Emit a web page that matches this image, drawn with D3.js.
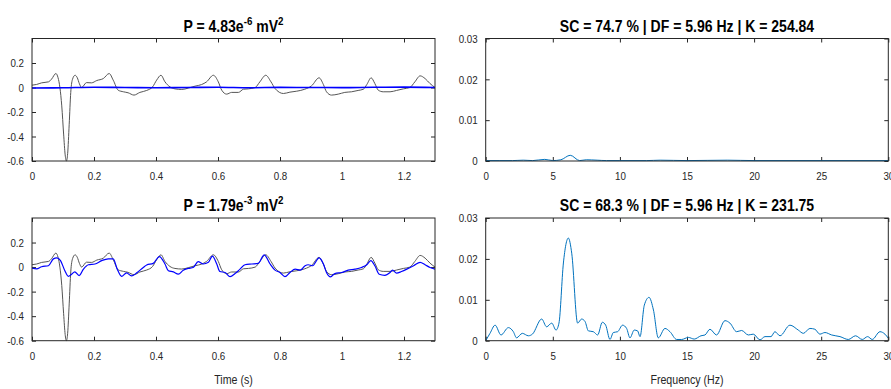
<!DOCTYPE html>
<html>
<head>
<meta charset="utf-8">
<script src="https://cdn.jsdelivr.net/npm/d3@7"></script>
<style>
  body { margin: 0; background: #fff; }
  svg { display: block; font-family: "Liberation Sans", Arial, sans-serif; }
  .tick text { fill: #262626; font-size: 11.5px; }
  .tick line { stroke: #262626; }
</style>
</head>
<body>
<svg id="chart" width="891" height="389"></svg>
<script>
// Time signal (same reference trace in both rows), seconds / mV
const grayTime = [0, 0.015, 0.031, 0.053, 0.063, 0.077, 0.084, 0.09, 0.096, 0.102, 0.107, 0.111, 0.115, 0.12, 0.125, 0.131, 0.139, 0.146, 0.153, 0.16, 0.176, 0.192, 0.209, 0.23, 0.249, 0.262, 0.278, 0.295, 0.31, 0.329, 0.348, 0.37, 0.389, 0.402, 0.416, 0.429, 0.445, 0.461, 0.483, 0.504, 0.526, 0.547, 0.563, 0.585, 0.601, 0.612, 0.628, 0.644, 0.666, 0.682, 0.698, 0.72, 0.735, 0.754, 0.771, 0.784, 0.811, 0.832, 0.854, 0.88, 0.902, 0.926, 0.94, 0.95, 0.966, 0.988, 1.009, 1.031, 1.052, 1.069, 1.08, 1.094, 1.106, 1.117, 1.133, 1.155, 1.176, 1.198, 1.219, 1.235, 1.252, 1.268, 1.284, 1.3];
const grayValue = [0.019, 0.025, 0.038, 0.046, 0.068, 0.114, 0.08, 0.0, -0.15, -0.38, -0.55, -0.6, -0.54, -0.3, -0.04, 0.07, 0.1, 0.08, 0.03, 0.0, 0.04, 0.038, 0.057, 0.073, 0.114, 0.06, -0.022, -0.035, -0.043, -0.062, -0.04, -0.024, 0.005, 0.06, 0.1, 0.046, 0.005, -0.011, -0.016, -0.005, 0.011, 0.024, 0.046, 0.1, 0.046, -0.022, -0.054, -0.04, -0.04, -0.014, -0.011, 0.0, 0.046, 0.1, 0.046, -0.008, -0.049, -0.038, -0.03, -0.014, 0.014, 0.079, 0.024, -0.035, -0.062, -0.054, -0.04, -0.035, -0.024, -0.014, 0.024, 0.079, 0.032, -0.022, -0.035, -0.035, -0.024, -0.011, 0.0, 0.046, 0.095, 0.073, 0.032, 0.0];

// Top row: nearly flat residual
const topBlueTime = [0, 0.1, 0.2, 0.3, 0.4, 0.5, 0.6, 0.7, 0.8, 0.9, 1.0, 1.1, 1.2, 1.3];
const topBlueValue = [-0.004, -0.002, 0.002, 0.0, -0.002, 0.0, 0.002, -0.002, 0.001, 0.0, -0.001, 0.002, 0.003, 0.0];

// Bottom row: estimated signal
const bottomBlueTime = [0, 0.015, 0.031, 0.053, 0.069, 0.08, 0.092, 0.106, 0.117, 0.128, 0.138, 0.152, 0.166, 0.182, 0.203, 0.225, 0.246, 0.262, 0.275, 0.289, 0.305, 0.321, 0.338, 0.359, 0.37, 0.391, 0.411, 0.429, 0.44, 0.456, 0.472, 0.488, 0.504, 0.52, 0.536, 0.552, 0.569, 0.582, 0.596, 0.606, 0.623, 0.639, 0.655, 0.671, 0.687, 0.709, 0.73, 0.749, 0.768, 0.784, 0.8, 0.816, 0.832, 0.849, 0.865, 0.881, 0.891, 0.905, 0.926, 0.94, 0.95, 0.963, 0.977, 0.999, 1.02, 1.042, 1.063, 1.08, 1.093, 1.106, 1.12, 1.138, 1.155, 1.163, 1.176, 1.192, 1.209, 1.231, 1.252, 1.268, 1.284, 1.3];
const bottomBlueValue = [-0.008, -0.014, 0.003, 0.011, 0.067, 0.075, 0.053, -0.03, -0.075, -0.058, -0.039, -0.069, -0.017, 0.019, 0.025, 0.053, 0.067, 0.067, -0.017, -0.075, -0.047, -0.072, -0.047, -0.003, 0.017, 0.03, 0.086, 0.025, -0.03, -0.039, -0.058, -0.025, -0.011, -0.003, 0.044, 0.025, 0.039, 0.089, 0.025, -0.036, -0.044, -0.078, -0.053, -0.017, 0.019, 0.025, 0.03, 0.1, 0.025, -0.025, -0.044, -0.078, -0.044, -0.017, -0.025, 0.011, 0.019, 0.011, 0.075, 0.025, -0.044, -0.08, -0.053, -0.044, -0.025, -0.017, -0.003, 0.019, 0.053, 0.011, -0.058, -0.067, -0.044, -0.025, -0.05, -0.036, -0.017, 0.011, 0.039, 0.019, -0.003, -0.017];

// Spectra (Hz / power)
const topFreq = [0, 1.0, 2.0, 2.8, 3.5, 4.4, 5.0, 5.6, 6.3, 7.0, 7.5, 8.3, 9.0, 10, 12, 13, 15, 18, 20, 25, 30];
const topPower = [0.0001, 0.0001, 0.0001, 0.0002, 0.0001, 0.0004, 0.0001, 0.0003, 0.0014, 0.0001, 0.0003, 0.0002, 0.0001, 0.0001, 0.0001, 0.0002, 0.0001, 0.0002, 0.0001, 0.0001, 0.0001];

const bottomFreq = [0, 0.32, 0.7, 1.14, 1.69, 2.06, 2.3, 2.73, 3.18, 3.48, 4.17, 4.54, 4.92, 5.24, 5.46, 5.79, 6.16, 6.41, 6.85, 7.15, 7.4, 7.65, 8.02, 8.34, 8.69, 8.94, 9.26, 9.51, 9.83, 10.2, 10.5, 10.75, 11.07, 11.32, 11.5, 11.82, 12.17, 12.5, 12.86, 13.36, 13.73, 14.23, 14.6, 15.1, 15.54, 16.04, 16.34, 16.71, 17.2, 17.83, 18.2, 18.7, 19.07, 19.57, 19.94, 20.44, 20.81, 21.26, 21.55, 21.93, 22.67, 23.29, 23.67, 24.16, 24.53, 24.9, 25.28, 25.78, 26.4, 27.02, 27.56, 28.06, 28.46, 28.8, 29.38, 29.75, 30];
const bottomPower = [0, 0.0018, 0.0038, 0.0014, 0.0032, 0.0022, 0.0007, 0.0018, 0.0012, 0.0016, 0.0053, 0.0034, 0.0043, 0.0026, 0.0043, 0.019, 0.0251, 0.0214, 0.0043, 0.0053, 0.0047, 0.0024, 0.0022, 0.0014, 0.0045, 0.0038, 0.0003, 0.002, 0.0022, 0.0038, 0.003, 0.0007, 0.0026, 0.0024, 0.001, 0.0087, 0.0106, 0.0075, 0.0007, 0.003, 0.0022, 0.0003, 0.0003, 0.0008, 0.0004, 0.0012, 0.0014, 0.0028, 0.0014, 0.0049, 0.0043, 0.0022, 0.0025, 0.0014, 0.0016, 0.0002, 0.001, 0.001, 0.0022, 0.0012, 0.0038, 0.0026, 0.0018, 0.003, 0.0028, 0.0016, 0.002, 0.0014, 0.001, 0.0003, 0.0012, 0.0003, 0.001, 0.0003, 0.0022, 0.0016, 0.0006];

const timeTicks = [0, 0.2, 0.4, 0.6, 0.8, 1.0, 1.2];
const voltTicks = [-0.6, -0.4, -0.2, 0, 0.2];
const freqTicks = [0, 5, 10, 15, 20, 25, 30];
const powerTicks = [0, 0.01, 0.02, 0.03];

const titles = [
  { base: "P = 4.83e", exp1: "-6", unit: " mV", exp2: "2" },
  { base: "P = 1.79e", exp1: "-3", unit: " mV", exp2: "2" },
  "SC = 74.7 % | DF = 5.96 Hz | K = 254.84",
  "SC = 68.3 % | DF = 5.96 Hz | K = 231.75",
];

const svg = d3.select("#chart");
const fmt = (d) => (d === 0 ? "0" : String(+d.toFixed(2)));
// no narrow font installed, so squeeze texts horizontally like the original
const squeeze = 0.85;

function zip(xs, ys) {
  return xs.map((x, i) => ({ x: x, y: ys[i] }));
}

function condense(sel) {
  sel.selectAll("text").each(function () {
    const t = d3.select(this);
    const x = +(t.attr("x") || 0);
    t.attr("x", x / squeeze).attr("transform", `scale(${squeeze},1)`);
  });
}

function drawPanel(opts) {
  const { left, right, top, bottom } = opts.box;
  const x = d3.scaleLinear().domain(opts.xDomain).range([left, right]);
  const y = d3.scaleLinear().domain(opts.yDomain).range([bottom, top]);
  const g = svg.append("g");

  const clipId = "clip-" + opts.id;
  svg.append("clipPath").attr("id", clipId)
    .append("rect")
    .attr("x", left).attr("y", top - 1)
    .attr("width", right - left).attr("height", bottom - top + 2);

  // inward ticks on all four sides (box on)
  g.append("g").attr("transform", `translate(0,${bottom})`)
    .call(d3.axisBottom(x).tickValues(opts.xTicks).tickSize(-4).tickPadding(11).tickFormat(fmt))
    .call((a) => a.select(".domain").remove());
  g.append("g").attr("transform", `translate(0,${top})`)
    .call(d3.axisTop(x).tickValues(opts.xTicks).tickSize(-4).tickFormat(""))
    .call((a) => a.select(".domain").remove());
  g.append("g").attr("transform", `translate(${left},0)`)
    .call(d3.axisLeft(y).tickValues(opts.yTicks).tickSize(-4).tickPadding(8).tickFormat(fmt))
    .call((a) => a.select(".domain").remove());
  g.append("g").attr("transform", `translate(${right},0)`)
    .call(d3.axisRight(y).tickValues(opts.yTicks).tickSize(-4).tickFormat(""))
    .call((a) => a.select(".domain").remove());

  const line = d3.line()
    .x((d) => x(d.x))
    .y((d) => y(d.y))
    .curve(d3.curveMonotoneX);

  opts.series.forEach((s) => {
    g.append("path")
      .datum(s.data)
      .attr("clip-path", `url(#${clipId})`)
      .attr("fill", "none")
      .attr("stroke", s.color)
      .attr("stroke-width", s.width)
      .attr("d", line);
  });

  g.append("rect")
    .attr("x", left).attr("y", top)
    .attr("width", right - left).attr("height", bottom - top)
    .attr("fill", "none")
    .attr("stroke", "#262626")
    .attr("stroke-width", 1);

  // title
  const t = g.append("text")
    .attr("x", (left + right) / 2)
    .attr("y", top - 6.5)
    .attr("text-anchor", "middle")
    .attr("font-weight", "bold")
    .attr("font-size", 16.5)
    .attr("fill", "#000");
  if (typeof opts.title === "string") {
    t.text(opts.title);
  } else {
    t.append("tspan").text(opts.title.base);
    t.append("tspan").attr("dy", -7).attr("font-size", 11.5).text(opts.title.exp1);
    t.append("tspan").attr("dy", 7).text(opts.title.unit);
    t.append("tspan").attr("dy", -7).attr("font-size", 11.5).text(opts.title.exp2);
  }

  if (opts.xLabel) {
    g.append("text")
      .attr("x", (left + right) / 2)
      .attr("y", 384)
      .attr("text-anchor", "middle")
      .attr("font-size", 12.5)
      .attr("fill", "#262626")
      .text(opts.xLabel);
  }

  condense(g);
}

const leftBox = { left: 32, right: 435 };
const rightBox = { left: 485.7, right: 888.3 };
const topRow = { top: 38.5, bottom: 161 };
const bottomRow = { top: 218, bottom: 340.7 };

drawPanel({
  id: "tl", box: { ...leftBox, ...topRow },
  xDomain: [0, 1.3], yDomain: [-0.6, 0.4], xTicks: timeTicks, yTicks: voltTicks,
  title: titles[0],
  series: [
    { data: zip(grayTime, grayValue), color: "#555555", width: 1 },
    { data: zip(topBlueTime, topBlueValue), color: "#0000ff", width: 1.6 },
  ],
});

drawPanel({
  id: "bl", box: { ...leftBox, ...bottomRow },
  xDomain: [0, 1.3], yDomain: [-0.6, 0.4], xTicks: timeTicks, yTicks: voltTicks,
  title: titles[1], xLabel: "Time (s)",
  series: [
    { data: zip(grayTime, grayValue), color: "#555555", width: 1 },
    { data: zip(bottomBlueTime, bottomBlueValue), color: "#0000ff", width: 1.2 },
  ],
});

drawPanel({
  id: "tr", box: { ...rightBox, ...topRow },
  xDomain: [0, 30], yDomain: [0, 0.03], xTicks: freqTicks, yTicks: powerTicks,
  title: titles[2],
  series: [{ data: zip(topFreq, topPower), color: "#0072bd", width: 1 }],
});

drawPanel({
  id: "br", box: { ...rightBox, ...bottomRow },
  xDomain: [0, 30], yDomain: [0, 0.03], xTicks: freqTicks, yTicks: powerTicks,
  title: titles[3], xLabel: "Frequency (Hz)",
  series: [{ data: zip(bottomFreq, bottomPower), color: "#0072bd", width: 1 }],
});
</script>
</body>
</html>
